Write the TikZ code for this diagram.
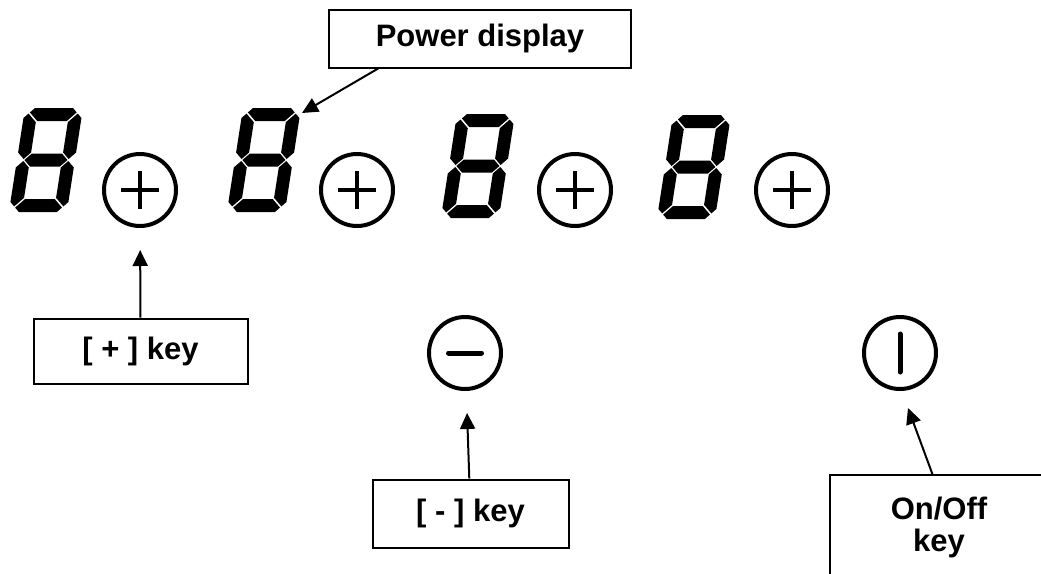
\documentclass[tikz,border=0pt]{standalone}
\usepackage{fontspec}
\setmainfont{Liberation Sans}
\usetikzlibrary{arrows.meta,calc}

\tikzstyle{tag}=[draw, line width=1pt, inner sep=0pt, align=center, font=\fontsize{15.5}{16}\selectfont\bfseries]
\tikzstyle{keyring}=[circle, draw, line width=2pt, minimum size=36pt, inner sep=0pt]
\tikzstyle{pluskey}=[keyring, path picture={
    \draw[line width=2pt] ([xshift=-9.5pt]path picture bounding box.center) -- ([xshift=9.5pt]path picture bounding box.center);
    \draw[line width=2pt] ([yshift=-9.5pt]path picture bounding box.center) -- ([yshift=9.5pt]path picture bounding box.center);}]
\tikzstyle{minuskey}=[keyring, path picture={
    \draw[line width=2.5pt, line cap=round] ([xshift=-8.25pt]path picture bounding box.center) -- ([xshift=8.25pt]path picture bounding box.center);}]
\tikzstyle{onoffkey}=[keyring, path picture={
    \draw[line width=2.5pt, line cap=round] ([yshift=-9.5pt]path picture bounding box.center) -- ([yshift=9.5pt]path picture bounding box.center);}]
\tikzstyle{pointer}=[-{Triangle[length=8pt,width=7.5pt]}, line width=1pt]

% one slanted seven-segment digit, top left corner at (#1,#2)
\newcommand{\lcddigit}[2]{%
  \begin{scope}[shift={(#1,#2)}, xslant=0.155]
    \fill (10,0) -- (48,0) -- (52.4,4.4) -- (43.8,13) -- (14.2,13) -- (5.6,4.4) -- cycle;
    \fill (0,10) -- (4.4,5.6) -- (13,14.2) -- (13,44.5) -- (6.5,51) -- (0,44.5) -- cycle;
    \fill (58,10) -- (53.6,5.6) -- (45,14.2) -- (45,44.5) -- (51.5,51) -- (58,44.5) -- cycle;
    \fill (7.5,52) -- (14,45.5) -- (44,45.5) -- (50.5,52) -- (44,58.5) -- (14,58.5) -- cycle;
    \fill (0,94) -- (4.4,98.4) -- (13,89.8) -- (13,59.5) -- (6.5,53) -- (0,59.5) -- cycle;
    \fill (58,94) -- (53.6,98.4) -- (45,89.8) -- (45,59.5) -- (51.5,53) -- (58,59.5) -- cycle;
    \fill (10,104) -- (48,104) -- (52.4,99.6) -- (43.8,91) -- (14.2,91) -- (5.6,99.6) -- cycle;
  \end{scope}}

\begin{document}
\begin{tikzpicture}[x=0.5pt, y=-0.5pt]
\clip (0,0) rectangle (1041,574);

% displays
\foreach \dx/\dy in {25/108, 243/108, 457/114, 673/115}
  \lcddigit{\dx}{\dy};

% keys
\foreach \x [count=\i] in {140,357,575,792}
  \node[pluskey](plus\i) at (\x,190) {};
\node[minuskey](minus) at (465,353) {};
\node[onoffkey](onoff) at (900,353) {};

% labels
\node[tag, minimum width=151pt, minimum height=29pt](power) at (480,38.5) {Power display};
\node[tag, minimum width=107pt, minimum height=32.5pt](pluslabel) at (140.5,351) {[ + ] key};
\node[tag, minimum width=98pt, minimum height=34pt](minuslabel) at (470.5,513.5) {[ - ] key};
\node[tag, minimum width=109pt, minimum height=52pt](onofflabel) at (939,527) {On/Off\\key};

\coordinate (displaytip) at (302,113);
\coordinate (onofftip) at (908,408);

\draw[pointer] ($(power.south west)!0.165!(power.south east)$) -- (displaytip);
\draw[pointer, shorten >=11pt] (pluslabel) -- (plus1);
\draw[pointer, shorten >=11pt] (minuslabel) -- (minus);
\draw[pointer] ($(onofflabel.north west)!0.47!(onofflabel.north east)$) -- (onofftip);
\end{tikzpicture}
\end{document}
